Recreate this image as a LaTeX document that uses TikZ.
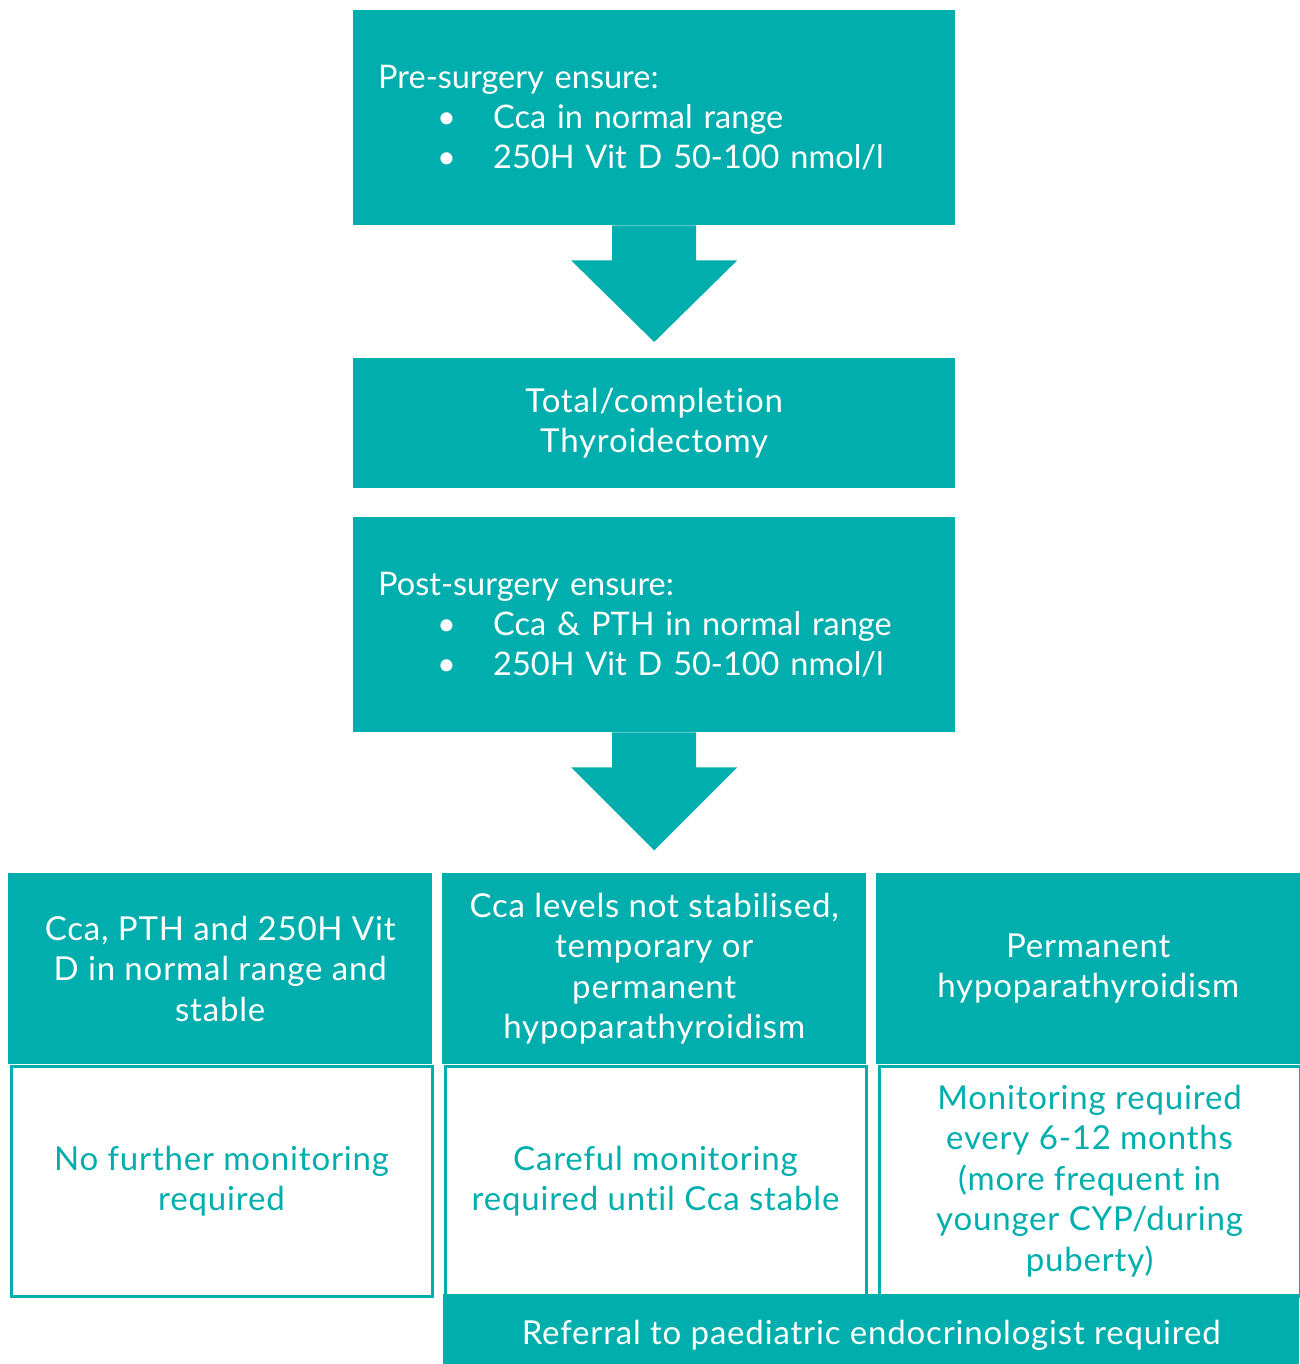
\documentclass[tikz,border=0pt]{standalone}
\usepackage{fontspec}
\setmainfont{Lato}[Ligatures=NoCommon]
\newfontfamily\widefont{Lato}[LetterSpace=2.5,Ligatures=NoCommon]
\usetikzlibrary{calc}
\definecolor{tealc}{RGB}{0,174,173}
\tikzset{
  tealbox/.style={fill=tealc, text=white, inner sep=0pt, align=center,
    font=\widefont\fontsize{33}{40.5}\selectfont},
  listbox/.style={tealbox, text width=552pt, inner xsep=25pt, align=left,
    minimum width=602pt, minimum height=215pt,
    font=\fontsize{32.5}{40}\selectfont},
  whitebox/.style={draw=tealc, line width=3pt, fill=white, text=tealc, inner sep=0pt, align=center,
    font=\widefont\fontsize{33}{40.5}\selectfont},
  blockarrow/.style={fill=tealc}
}
\newcommand{\blt}[1]{\hspace*{59pt}\makebox[56pt][l]{\textbullet}#1}
\begin{document}
\begin{tikzpicture}[x=1pt,y=-1pt]
\useasboundingbox (0,0) rectangle (1299,1364);
\fill[white] (0,0) rectangle (1299,1364);

\node[listbox, anchor=north west] (pre) at (353,10)
  {Pre-surgery ensure:\\ \blt{Cca in normal range}\\ \blt{250H Vit D 50-100 nmol/l}};

\node[tealbox, anchor=north west, minimum width=602pt, minimum height=130pt] (thy) at (353,358)
  {Total/completion\\Thyroidectomy};

\node[listbox, anchor=north west] (post) at (353,517)
  {Post-surgery ensure:\\ \blt{Cca \& PTH in normal range}\\ \blt{250H Vit D 50-100 nmol/l}};

% block arrows
\fill[blockarrow] ($(pre.south)+(-42,0)$) -- ($(pre.south)+(42,0)$) -- ($(pre.south)+(42,35)$) -- ($(pre.south)+(83,35)$)
  -- ($(thy.north)+(0,-16)$) -- ($(pre.south)+(-83,35)$) -- ($(pre.south)+(-42,35)$) -- cycle;
\fill[blockarrow] ($(post.south)+(-42,0)$) -- ($(post.south)+(42,0)$) -- ($(post.south)+(42,35)$) -- ($(post.south)+(83,35)$)
  -- ($(post.south)+(0,118)$) -- ($(post.south)+(-83,35)$) -- ($(post.south)+(-42,35)$) -- cycle;

% bottom row, teal headers
\node[tealbox, anchor=north west, minimum width=424pt, minimum height=191pt] (h1) at (8,873)
  {Cca, PTH and 250H Vit\\D in normal range and\\stable};
\node[tealbox, anchor=north west, minimum width=424pt, minimum height=191pt] (h2) at (442,873)
  {Cca levels not stabilised,\\temporary or\\permanent\\hypoparathyroidism};
\node[tealbox, anchor=north west, minimum width=424pt, minimum height=191pt] (h3) at (876,873)
  {Permanent\\hypoparathyroidism};

% white boxes
\node[whitebox, anchor=north west, minimum width=421pt, minimum height=230pt] (w1) at (9.5,1064.5)
  {No further monitoring\\required};
\node[whitebox, anchor=north west, minimum width=421pt, minimum height=230pt] (w2) at (443.5,1064.5)
  {Careful monitoring\\required until Cca stable};
\node[whitebox, anchor=north west, minimum width=421pt, minimum height=230pt] (w3) at (877.5,1064.5)
  {Monitoring required\\every 6-12 months\\(more frequent in\\younger CYP/during\\puberty)};

% referral
\node[tealbox, anchor=north west, minimum width=856pt, minimum height=82pt] (ref) at (443,1294)
  {Referral to paediatric endocrinologist required};
\end{tikzpicture}
\end{document}
